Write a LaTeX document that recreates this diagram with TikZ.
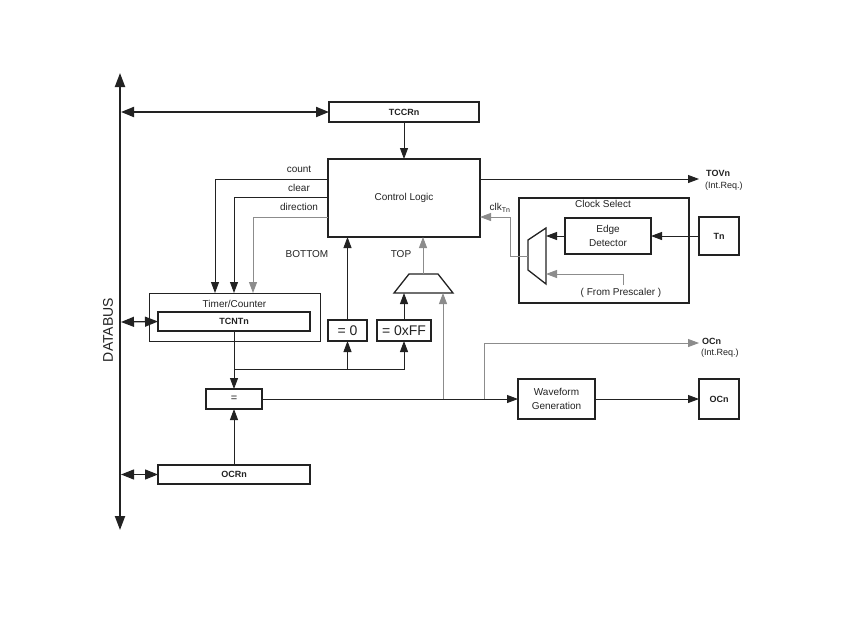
\documentclass[tikz,border=0pt]{standalone}
\usepackage{fontspec}
\setmainfont{Liberation Sans}
\usetikzlibrary{arrows.meta}
\definecolor{ink}{HTML}{222222}
\definecolor{gline}{HTML}{8C8C8C}
\begin{document}
\begin{tikzpicture}[x=1pt,y=-1pt,
  every node/.style={text=ink},
  box/.style={draw=ink,line width=1.6pt,inner sep=0pt,outer sep=0pt},
  thinbox/.style={draw=ink,line width=0.9pt,inner sep=0pt,outer sep=0pt},
  lbl/.style={font=\fontsize{10}{12}\selectfont,inner sep=0pt},
  blbl/.style={font=\fontsize{9}{11}\selectfont\bfseries,inner sep=0pt},
  big/.style={font=\fontsize{14}{16}\selectfont},
  arr/.style={draw=ink,line width=0.9pt,-{Triangle[length=11pt,width=8pt]}},
  garr/.style={draw=gline,line width=0.9pt,-{Triangle[length=11pt,width=8pt]}},
  gline/.style={draw=gline,line width=0.9pt},
  busarr/.style={draw=ink,line width=2pt,{Triangle[length=13pt,width=10pt]}-{Triangle[length=13pt,width=10pt]}},
  busend/.style={draw=ink,line width=2pt,-{Triangle[length=14pt,width=10pt]}}
]
\useasboundingbox (0,0) rectangle (850,638);

% data bus
\coordinate (dbM) at (120,300);
\coordinate (dbT) at (120,73);
\coordinate (dbB) at (120,530);
\draw[busend] (dbM) -- (dbT);
\draw[busend] (dbM) -- (dbB);
\node[rotate=90,font=\fontsize{14}{16}\selectfont,inner sep=0pt] (dbl) at (108,330) {DATABUS};

% boxes
\node[box,minimum width=150pt,minimum height=20pt] (tccr) at (404,112) {\fontsize{9}{11}\selectfont\bfseries TCCRn};
\node[box,minimum width=152pt,minimum height=78pt] (cl) at (404,198) {\fontsize{10}{12}\selectfont Control Logic};
\node[thinbox,minimum width=171pt,minimum height=48pt] (tc) at (234.5,317) {};
\node[lbl] (tcl) at (234.5,304) {Timer/Counter};
\node[box,minimum width=152pt,minimum height=19pt] (tcnt) at (234,321.5) {\fontsize{9}{11}\selectfont\bfseries TCNTn};
\node[box,minimum width=39pt,minimum height=21pt,big] (eq0) at (347.5,330.5) {= 0};
\node[box,minimum width=54pt,minimum height=21pt,big] (eqff) at (404,330.5) {= 0xFF};
\node[box,minimum width=56pt,minimum height=20pt] (eq) at (234,399) {\fontsize{11}{13}\selectfont =};
\node[box,minimum width=152pt,minimum height=19pt] (ocr) at (234,474.5) {\fontsize{9}{11}\selectfont\bfseries OCRn};
\node[box,minimum width=77pt,minimum height=40pt,align=center,font=\fontsize{10}{14}\selectfont] (wg) at (556.5,399) {Waveform\\Generation};
\node[box,minimum width=40pt,minimum height=40pt] (ocn) at (719,399) {\fontsize{9}{11}\selectfont\bfseries OCn};
\node[box,minimum width=170pt,minimum height=105pt] (cs) at (604,250.5) {};
\node[lbl] (csl) at (603,204) {Clock Select};
\node[box,minimum width=86pt,minimum height=36pt,align=center,font=\fontsize{10}{14}\selectfont] (ed) at (608,236) {Edge\\Detector};
\node[box,minimum width=40pt,minimum height=38pt] (tn) at (719,236) {\fontsize{9}{11}\selectfont\bfseries Tn};

% multiplexers
\draw[draw=ink,line width=1.3pt] (394,293) -- (409,274) -- (438,274) -- (453,293) -- cycle;
\coordinate (muxT) at (423,274);
\coordinate (muxB1) at (404,293);
\coordinate (muxB2) at (443,293);
\draw[draw=ink,line width=1.3pt] (528,240) -- (546,228) -- (546,284) -- (528,270) -- cycle;
\coordinate (cmIn1) at (546,236);
\coordinate (cmIn2) at (546,274);
\coordinate (cmOut) at (528,256);

% bus connections
\coordinate (b1) at (121,112);
\coordinate (b2) at (121,322);
\coordinate (b3) at (121,474.5);
\draw[busarr] (b1) -- (tccr.west);
\draw[busarr,line width=1.2pt] (b2) -- (tcnt.west);
\draw[busarr,line width=1.2pt] (b3) -- (ocr.west);

% control logic connections
\draw[arr] (tccr.south) -- (cl.north);
\coordinate (cnt) at (215,179);
\coordinate (clr) at (234,197);
\coordinate (dir) at (253,217);
\draw[arr] (cl.west |- cnt) -- (cnt) -- (cnt |- tc.north);
\draw[arr] (cl.west |- clr) -- (clr) -- (clr |- tc.north);
\draw[garr] (cl.west |- dir) -- (dir) -- (dir |- tc.north);
\node[lbl] (lcnt) at (299,169) {count};
\node[lbl] (lclr) at (299,188) {clear};
\node[lbl] (ldir) at (299,207) {direction};

\draw[arr] (eq0.north) -- (eq0.north |- cl.south);
\draw[garr] (muxT) -- (muxT |- cl.south);
\node[lbl] (lbot) at (307,254) {BOTTOM};
\node[lbl] (ltop) at (401,254) {TOP};
\draw[arr] (eqff.north) -- (muxB1);

% counter to comparators
\coordinate (hj) at (234,369);
\draw[arr] (tcnt.south) -- (eq.north);
\draw[arr] (hj) -| (eq0.south);
\draw[arr] (hj) -| (eqff.south);
\draw[arr] (ocr.north) -- (eq.south);

% compare output
\coordinate (gj) at (443,399);
\coordinate (oj) at (484,399);
\coordinate (ocnInt) at (699,343);
\draw[arr] (eq.east) -- (wg.west);
\draw[garr] (gj) -- (muxB2);
\draw[garr] (oj) |- (ocnInt);
\draw[arr] (wg.east) -- (ocn.west);
\node[blbl,anchor=west] (locn) at (702,341) {OCn};
\node[lbl,anchor=west,font=\fontsize{9}{11}\selectfont] (locnr) at (701,353) {(Int.Req.)};

% TOVn
\coordinate (tov) at (699,179);
\draw[arr] (cl.east |- tov) -- (tov);
\node[blbl,anchor=west] (ltov) at (706,173) {TOVn};
\node[lbl,anchor=west,font=\fontsize{9}{11}\selectfont] (ltovr) at (705,186) {(Int.Req.)};

% clock select
\draw[arr] (tn.west) -- (ed.east);
\draw[arr] (ed.west) -- (cmIn1);
\coordinate (pre) at (623,285);
\draw[garr] (pre) |- (cmIn2);
\node[lbl] (lpre) at (621,293) {( From Prescaler )};
\coordinate (ck) at (510,217);
\draw[gline] (cmOut) -| (ck);
\draw[garr] (ck) -- (cl.east |- ck);
\node[lbl] (lclk) at (500,208) {clk\textsubscript{Tn}};
\end{tikzpicture}
\end{document}
